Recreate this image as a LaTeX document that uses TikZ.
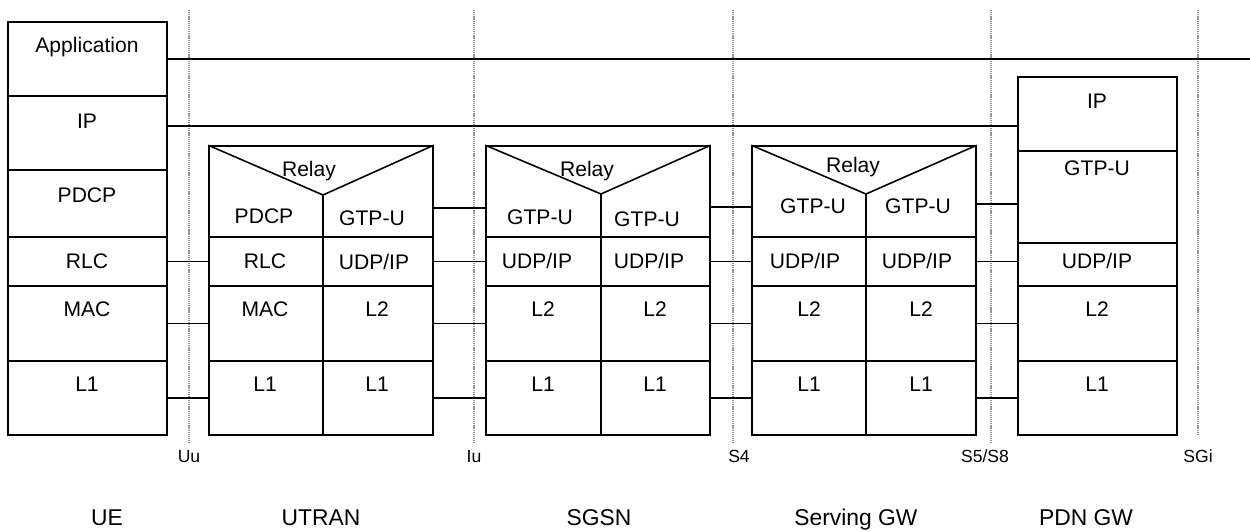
\documentclass[tikz,border=0pt]{standalone}
\usepackage{fontspec}
\setmainfont{Liberation Sans}
\usetikzlibrary{fit}
\definecolor{ifgray}{RGB}{150,150,150}

\begin{document}
\begin{tikzpicture}[x=0.02cm, y=-0.02cm, line width=0.9pt,
    cell/.style = {draw, rectangle, inner sep=0pt},
    lbl/.style = {inner sep=0pt, font=\fontsize{12}{14}\selectfont, text height=8.6pt, text depth=0pt},
    iflbl/.style = {inner sep=0pt, font=\fontsize{10}{12}\selectfont, text height=7.2pt, text depth=0pt},
    ent/.style = {inner sep=0pt, font=\fontsize{13}{15}\selectfont, text height=9.3pt, text depth=0pt},
    iface/.style = {draw=ifgray, line width=0.7pt, dash pattern=on 0.7pt off 0.5pt}]
  \useasboundingbox (0,0) rectangle (1250,531);

  % interfaces
  \draw[iface] (189,10) -- (189,443);
  \draw[iface] (474,10) -- (474,443);
  \draw[iface] (733,10) -- (733,443);
  \draw[iface] (991,10) -- (991,443);
  \draw[iface] (1198,10) -- (1198,435);
  \node[iflbl] (uu) at (189,456) {Uu};
  \node[iflbl] (iu) at (474,456) {Iu};
  \node[iflbl] (s4) at (739,456) {S4};
  \node[iflbl] (s5s8) at (985,456) {S5/S8};
  \node[iflbl] (sgi) at (1198,456) {SGi};

  % UE
  \node[cell, fit={(8,22) (167,96)}] (ueapp) {};
  \node[cell, fit={(8,96) (167,170)}] (ueip) {};
  \node[cell, fit={(8,170) (167,237)}] (uepdcp) {};
  \node[cell, fit={(8,237) (167,286)}] (uerlc) {};
  \node[cell, fit={(8,286) (167,361)}] (uemac) {};
  \node[cell, fit={(8,361) (167,435)}] (uel1) {};
  \node[lbl] (ueapptxt) at (87,45) {Application};
  \node[lbl] (ueiptxt) at (87,121) {IP};
  \node[lbl] (uepdcptxt) at (87,195) {PDCP};
  \node[lbl] (uerlctxt) at (87,261) {RLC};
  \node[lbl] (uemactxt) at (87,309) {MAC};
  \node[lbl] (uel1txt) at (87,384) {L1};

  % UTRAN
  \node[cell, fit={(209,146) (433,237)}] (utrelay) {};
  \node[cell, fit={(209,237) (323,286)}] (utrlc) {};
  \node[cell, fit={(323,237) (433,286)}] (utudp) {};
  \node[cell, fit={(209,286) (323,361)}] (utmac) {};
  \node[cell, fit={(323,286) (433,361)}] (utl2) {};
  \node[cell, fit={(209,361) (323,435)}] (utl1l) {};
  \node[cell, fit={(323,361) (433,435)}] (utl1r) {};
  \coordinate (utapex) at (323,195);
  \draw (utrelay.north west) -- (utapex) -- (utrelay.north east);
  \draw (utapex) -- (utapex |- utrelay.south);
  \node[lbl] (utrelaytxt) at (309,169) {Relay};
  \node[lbl] (utpdcptxt) at (264,216) {PDCP};
  \node[lbl] (utgtptxt) at (372,218) {GTP-U};
  \node[lbl] (utrlctxt) at (265,261) {RLC};
  \node[lbl] (utudptxt) at (374,262) {UDP/IP};
  \node[lbl] (utmactxt) at (265,309) {MAC};
  \node[lbl] (utl2txt) at (377,309) {L2};
  \node[lbl] (utl1ltxt) at (265,384) {L1};
  \node[lbl] (utl1rtxt) at (377,384) {L1};

  % SGSN
  \node[cell, fit={(486,146) (710,237)}] (sgrelay) {};
  \node[cell, fit={(486,237) (601,286)}] (sgudpl) {};
  \node[cell, fit={(601,237) (710,286)}] (sgudpr) {};
  \node[cell, fit={(486,286) (601,361)}] (sgl2l) {};
  \node[cell, fit={(601,286) (710,361)}] (sgl2r) {};
  \node[cell, fit={(486,361) (601,435)}] (sgl1l) {};
  \node[cell, fit={(601,361) (710,435)}] (sgl1r) {};
  \coordinate (sgapex) at (601,194);
  \draw (sgrelay.north west) -- (sgapex) -- (sgrelay.north east);
  \draw (sgapex) -- (sgapex |- sgrelay.south);
  \node[lbl] (sgrelaytxt) at (587,169) {Relay};
  \node[lbl] (sggtpltxt) at (540,217) {GTP-U};
  \node[lbl] (sggtprtxt) at (647,219) {GTP-U};
  \node[lbl] (sgudpltxt) at (537,261) {UDP/IP};
  \node[lbl] (sgudprtxt) at (649,261) {UDP/IP};
  \node[lbl] (sgl2ltxt) at (543,309) {L2};
  \node[lbl] (sgl2rtxt) at (655,309) {L2};
  \node[lbl] (sgl1ltxt) at (543,384) {L1};
  \node[lbl] (sgl1rtxt) at (655,384) {L1};

  % Serving GW
  \node[cell, fit={(752,146) (976,237)}] (swrelay) {};
  \node[cell, fit={(752,237) (866,286)}] (swudpl) {};
  \node[cell, fit={(866,237) (976,286)}] (swudpr) {};
  \node[cell, fit={(752,286) (866,361)}] (swl2l) {};
  \node[cell, fit={(866,286) (976,361)}] (swl2r) {};
  \node[cell, fit={(752,361) (866,435)}] (swl1l) {};
  \node[cell, fit={(866,361) (976,435)}] (swl1r) {};
  \coordinate (swapex) at (866,194);
  \draw (swrelay.north west) -- (swapex) -- (swrelay.north east);
  \draw (swapex) -- (swapex |- swrelay.south);
  \node[lbl] (swrelaytxt) at (853,165) {Relay};
  \node[lbl] (swgtpltxt) at (813,206) {GTP-U};
  \node[lbl] (swgtprtxt) at (918,206) {GTP-U};
  \node[lbl] (swudpltxt) at (805,261) {UDP/IP};
  \node[lbl] (swudprtxt) at (917,261) {UDP/IP};
  \node[lbl] (swl2ltxt) at (809,309) {L2};
  \node[lbl] (swl2rtxt) at (921,309) {L2};
  \node[lbl] (swl1ltxt) at (809,384) {L1};
  \node[lbl] (swl1rtxt) at (921,384) {L1};

  % PDN GW
  \node[cell, fit={(1018,77) (1177,151)}] (pdnip) {};
  \node[cell, fit={(1018,151) (1177,243)}] (pdngtp) {};
  \node[cell, fit={(1018,243) (1177,286)}] (pdnudp) {};
  \node[cell, fit={(1018,286) (1177,361)}] (pdnl2) {};
  \node[cell, fit={(1018,361) (1177,435)}] (pdnl1) {};
  \node[lbl] (pdniptxt) at (1097,101) {IP};
  \node[lbl] (pdngtptxt) at (1097,168) {GTP-U};
  \node[lbl] (pdnudptxt) at (1097,261) {UDP/IP};
  \node[lbl] (pdnl2txt) at (1097,309) {L2};
  \node[lbl] (pdnl1txt) at (1097,384) {L1};

  % peer links
  \coordinate (append) at (1250,58);
  \draw (ueapp.east) -- (ueapp.east -| append);
  \draw ([yshift=0.14cm]ueip.east) coordinate (ipl) -- (ipl -| pdnip.west);
  \draw (uerlc.east) -- (utrlc.west);
  \draw (uemac.east) -- (utmac.west);
  \draw (uel1.east) -- (utl1l.west);
  \draw ([yshift=-0.33cm]utrelay.east) coordinate (iug) -- (iug -| sgrelay.west);
  \draw (utudp.east) -- (sgudpl.west);
  \draw (utl2.east) -- (sgl2l.west);
  \draw (utl1r.east) -- (sgl1l.west);
  \draw ([yshift=-0.31cm]sgrelay.east) coordinate (s4g) -- (s4g -| swrelay.west);
  \draw (sgudpr.east) -- (swudpl.west);
  \draw (sgl2r.east) -- (swl2l.west);
  \draw (sgl1r.east) -- (swl1l.west);
  \draw ([yshift=-0.25cm]swrelay.east) coordinate (s5g) -- (s5g -| pdngtp.west);
  \draw (swudpr.east) -- (swudpr.east -| pdnudp.west);
  \draw (swl2r.east) -- (pdnl2.west);
  \draw (swl1r.east) -- (pdnl1.west);

  % network elements
  \node[ent] (ue) at (107,517) {UE};
  \node[ent] (utran) at (321,517) {UTRAN};
  \node[ent] (sgsn) at (599,517) {SGSN};
  \node[ent] (sgw) at (856,517) {Serving GW};
  \node[ent] (pdngw) at (1086,517) {PDN GW};
\end{tikzpicture}
\end{document}
